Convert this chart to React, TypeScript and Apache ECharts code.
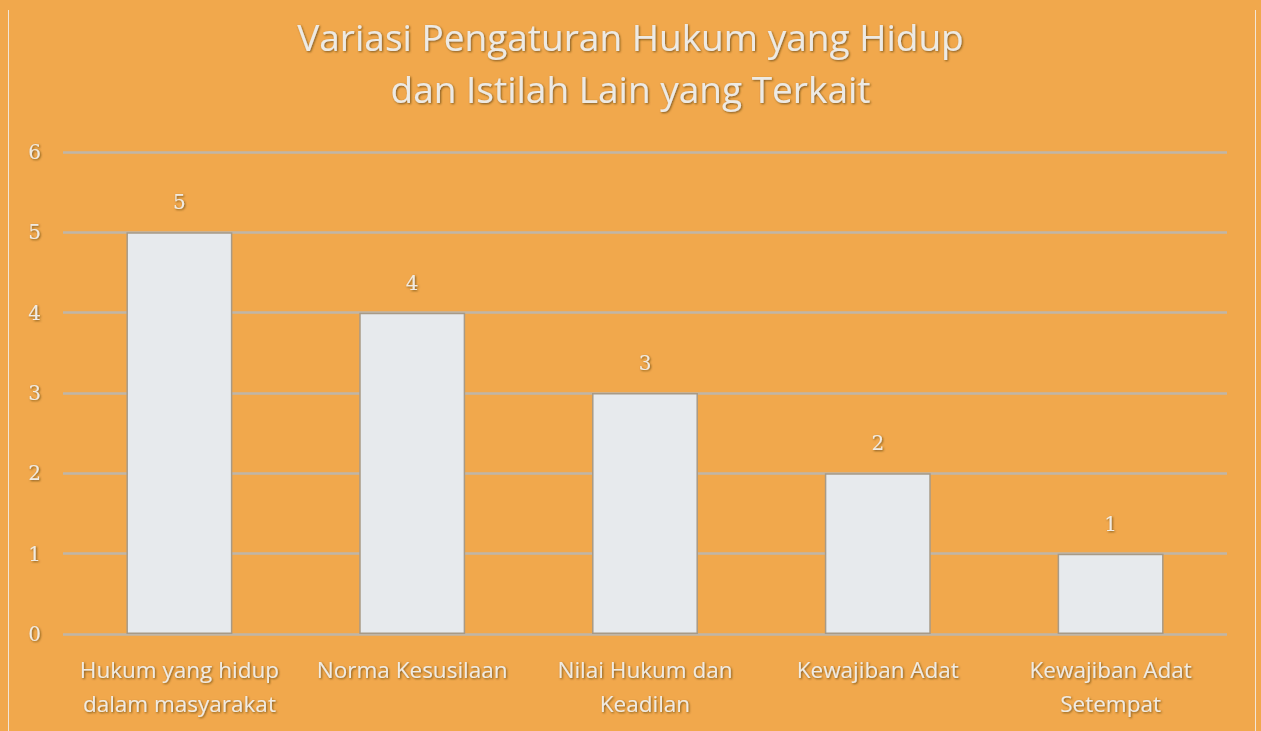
import React, { useEffect, useRef } from "react";
import * as echarts from "echarts";

const titleLines = ["Variasi Pengaturan Hukum yang Hidup", "dan Istilah Lain yang Terkait"];
const categories = [
  "Hukum yang hidup\ndalam masyarakat",
  "Norma Kesusilaan",
  "Nilai Hukum dan\nKeadilan",
  "Kewajiban Adat",
  "Kewajiban Adat\nSetempat",
];
const values = [5, 4, 3, 2, 1];
const yMin = 0;
const yMax = 6;
const yInterval = 1;

const textShadow = {
  textShadowColor: "rgba(90,60,20,0.75)",
  textShadowBlur: 2,
  textShadowOffsetX: 1,
  textShadowOffsetY: 1,
};

export default function App() {
  const ref = useRef<HTMLDivElement>(null);
  useEffect(() => {
    if (!ref.current) return;
    const chart = echarts.init(ref.current, null, { renderer: "svg" });
    chart.setOption({
      animation: false,
      backgroundColor: "#F1A84C",
      title: {
        text: titleLines.join("\n"),
        left: "center",
        top: 5,
        textStyle: {
          fontFamily: "'Open Sans', sans-serif",
          fontWeight: "normal",
          fontSize: 37,
          lineHeight: 52,
          color: "#EDEAE4",
          ...textShadow,
        },
      },
      grid: { left: 63, right: 34, top: 152, bottom: 97, containLabel: false },
      xAxis: {
        type: "category",
        data: categories,
        axisLine: { show: false },
        axisTick: { show: false },
        axisLabel: {
          interval: 0,
          margin: 18,
          fontFamily: "'Open Sans', 'Noto Sans', sans-serif",
          fontSize: 22.5,
          lineHeight: 34,
          color: "#F0EBE2",
          ...textShadow,
        },
      },
      yAxis: {
        type: "value",
        min: yMin,
        max: yMax,
        interval: yInterval,
        axisLine: { show: false },
        axisTick: { show: false },
        axisLabel: {
          margin: 22,
          fontFamily: "'DejaVu Serif', 'Liberation Serif', serif",
          fontSize: 20,
          color: "#F0EBE2",
          ...textShadow,
        },
        splitLine: {
          show: true,
          lineStyle: {
            color: "#BFB6A8",
            width: 2.5,
            type: "solid",
          },
        },
      },
      series: [
        {
          type: "bar",
          data: values,
          barWidth: "45.5%",
          itemStyle: {
            color: "#E7EAED",
            borderColor: "#A89A86",
            borderWidth: 1.5,
          },
          label: {
            show: true,
            position: "top",
            distance: 20,
            fontFamily: "'DejaVu Serif', 'Liberation Serif', serif",
            fontSize: 20,
            color: "#F0EBE2",
            ...textShadow,
          },
        },
      ],
      graphic: [
        { type: "line", shape: { x1: 8.5, y1: 10, x2: 8.5, y2: 731 }, style: { stroke: "#F2E6D6", lineWidth: 1 } },
        { type: "line", shape: { x1: 1255.5, y1: 10, x2: 1255.5, y2: 731 }, style: { stroke: "#F2E6D6", lineWidth: 1 } },
      ],
    });
    return () => chart.dispose();
  }, []);
  return (
    <div
      ref={ref}
      style={{ position: "fixed", left: 0, top: 0, width: 1261, height: 731 }}
    />
  );
}
